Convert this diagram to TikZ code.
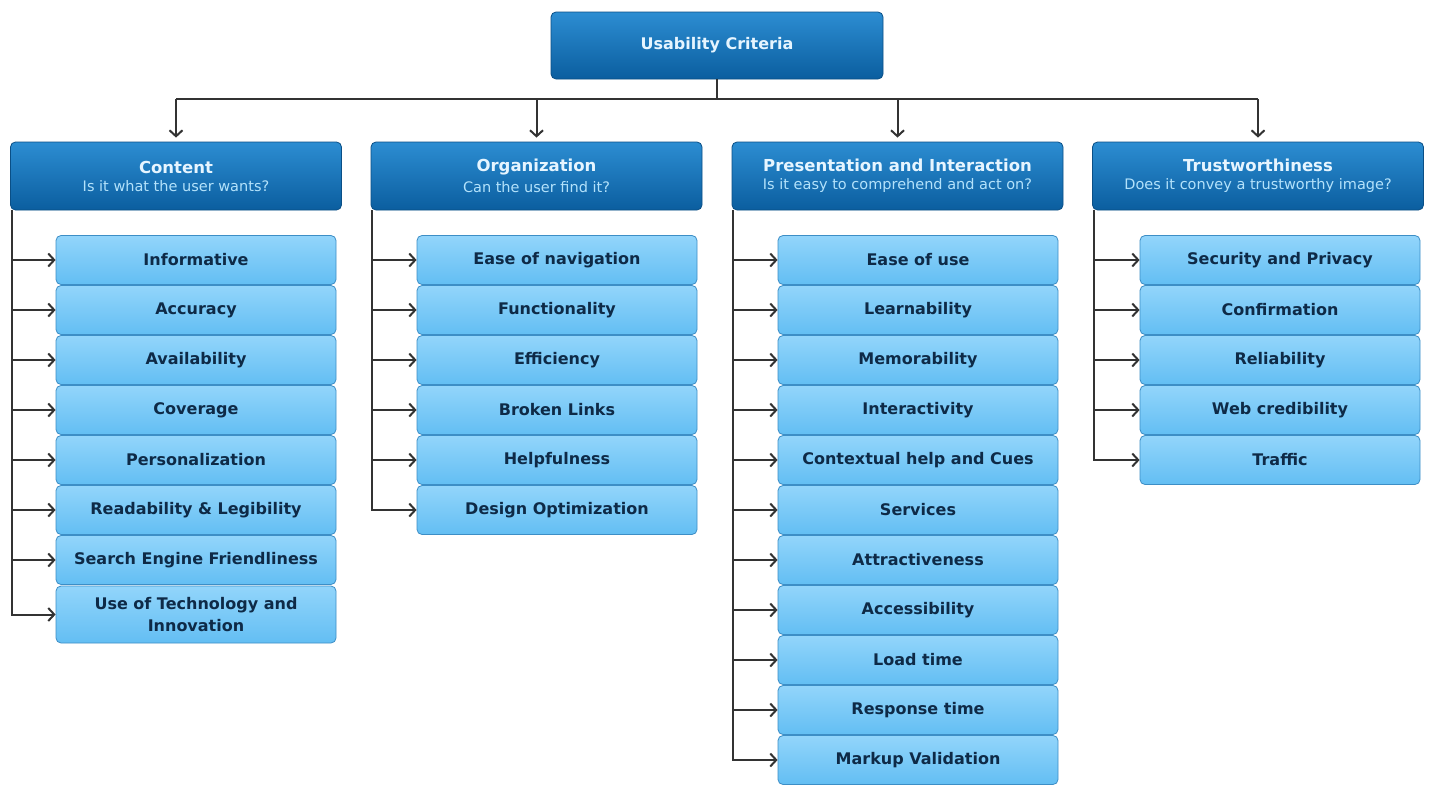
\documentclass[tikz,border=0pt]{standalone}
\usepackage{fontspec}
\setmainfont{DejaVu Sans}
\usetikzlibrary{arrows.meta}
\definecolor{hdrtop}{HTML}{2C8DD2}
\definecolor{hdrbot}{HTML}{0B5E9F}
\definecolor{hdrborder}{HTML}{0A4F86}
\definecolor{hdrtext}{HTML}{E6F5FF}
\definecolor{subtext}{HTML}{B3E2FB}
\definecolor{itemtop}{HTML}{92D5FB}
\definecolor{itembot}{HTML}{63BEF3}
\definecolor{itemborder}{HTML}{3D8EC6}
\definecolor{itemtext}{HTML}{0E2A47}
\definecolor{linec}{HTML}{333333}
\tikzset{
  hdr/.style={draw=hdrborder, line width=0.8pt, rounded corners=5pt, top color=hdrtop, bottom color=hdrbot, text=hdrtext, align=center, inner sep=0pt},
  rootbox/.style={hdr, minimum width=332pt, minimum height=67pt, font=\bfseries\fontsize{16}{19}\selectfont},
  catbox/.style={hdr, minimum width=331pt, minimum height=68pt},
  itembox/.style={draw=itemborder, line width=0.8pt, rounded corners=5pt, top color=itemtop, bottom color=itembot, text=itemtext, align=center, inner sep=0pt, minimum width=280pt, minimum height=49pt, font=\bfseries\fontsize{16}{22}\selectfont},
  link/.style={draw=linec, line width=2pt},
  arr/.style={link, -{Straight Barb[length=6pt,width=13pt,line width=2pt]}}
}
\newcommand{\cattext}[2]{{\bfseries\fontsize{16.5}{19}\selectfont #1}\\[6pt]{\fontsize{14.5}{17}\selectfont\color{subtext}#2}}
\begin{document}
\begin{tikzpicture}[x=1pt,y=-1pt]
\useasboundingbox (0,0) rectangle (1429,787);
\fill[white] (0,0) rectangle (1429,787);
% root
\node[rootbox] (root) at (717,45.5) {Usability Criteria};
% categories
\node[catbox] (c1) at (176,176) {\cattext{Content}{Is it what the user wants?}};
\node[catbox] (c2) at (536.5,176) {\cattext{Organization}{Can the user find it?}};
\node[catbox] (c3) at (897.5,176) {\cattext{Presentation and Interaction}{Is it easy to comprehend and act on?}};
\node[catbox] (c4) at (1258,176) {\cattext{Trustworthiness}{Does it convey a trustworthy image?}};
% bus
\draw[link] (root.south) -- ++(0,20) coordinate (bus);
\draw[link] (c1.north |- bus) -- (c4.north |- bus);
\foreach \j in {1,2,3,4}{
  \draw[arr, shorten >=4pt] (c\j.north |- bus) -- (c\j.north);
}
% side lines
\foreach \j in {1,2,3,4}{
  \coordinate (l\j) at ([xshift=1.5pt]c\j.south west);
}
% Content items
\foreach [count=\i] \t in {Informative, Accuracy, Availability, Coverage, Personalization, Readability \& Legibility, Search Engine Friendliness}{
  \node[itembox] (a\i) at (196,210+50*\i) {\t};
  \draw[arr] (l1) |- (a\i.west);
}
\node[itembox, minimum height=57pt] (a8) at (196,614.5) {Use of Technology and\\Innovation};
\draw[arr] (l1) |- (a8.west);
% Organization items
\foreach [count=\i] \t in {Ease of navigation, Functionality, Efficiency, Broken Links, Helpfulness, Design Optimization}{
  \node[itembox] (b\i) at (557,210+50*\i) {\t};
  \draw[arr] (l2) |- (b\i.west);
}
% Presentation items
\foreach [count=\i] \t in {Ease of use, Learnability, Memorability, Interactivity, Contextual help and Cues, Services, Attractiveness, Accessibility, Load time, Response time, Markup Validation}{
  \node[itembox] (p\i) at (918,210+50*\i) {\t};
  \draw[arr] (l3) |- (p\i.west);
}
% Trust items
\foreach [count=\i] \t in {Security and Privacy, Confirmation, Reliability, Web credibility, Traffic}{
  \node[itembox] (t\i) at (1280,210+50*\i) {\t};
  \draw[arr] (l4) |- (t\i.west);
}
\end{tikzpicture}
\end{document}
